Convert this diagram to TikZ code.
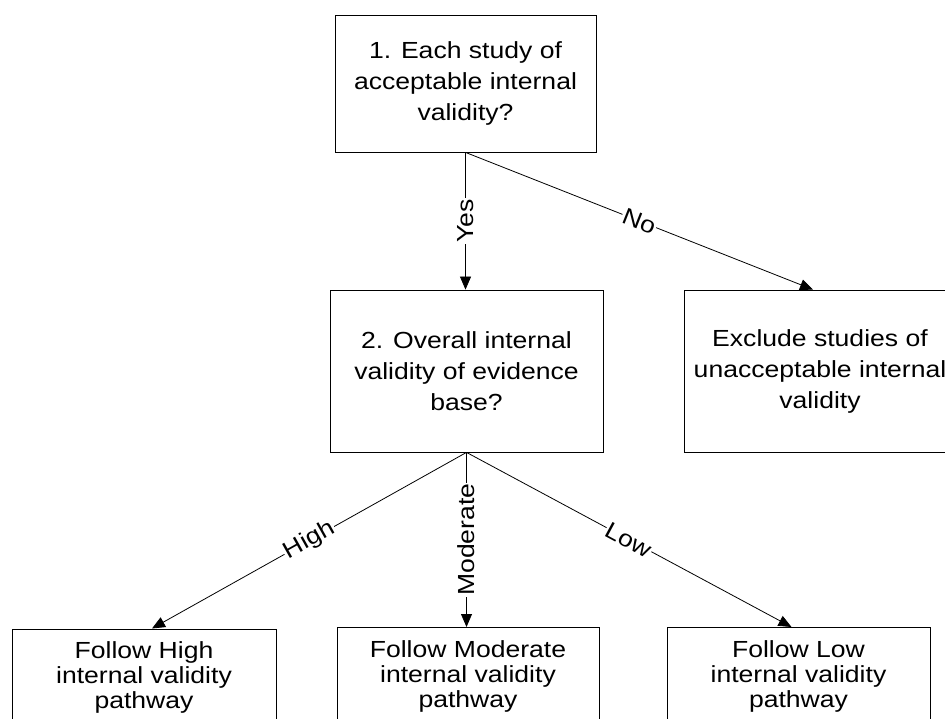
\documentclass[tikz,border=0pt]{standalone}
\usepackage{fontspec}
\setmainfont[FakeStretch=1.14]{Liberation Sans}
\usetikzlibrary{arrows.meta,calc}
\tikzset{
  box/.style={draw=black, line width=0.8pt, inner sep=0pt, align=center,
    font=\fontsize{23.3}{31}\selectfont},
  lowbox/.style={box, font=\fontsize{23.3}{25}\selectfont},
  lab/.style={fill=white, inner sep=1pt, font=\fontsize{23.3}{28}\selectfont},
  conn/.style={draw=black, line width=0.8pt, -{Triangle[length=13pt,width=11pt]}}
}
\begin{document}
\begin{tikzpicture}[x=1pt,y=-1pt]
\useasboundingbox (0,0) rectangle (945,719);
\clip (0,0) rectangle (945,719);
\fill[white] (0,0) rectangle (945,719);

\node[box, minimum width=261pt, minimum height=137pt] (q1) at (465.5,83.5)
  {1. Each study of\\acceptable internal\\validity?};
\node[box, minimum width=273pt, minimum height=162pt] (q2) at (466.5,371)
  {2. Overall internal\\validity of evidence\\base?};
\node[box, minimum width=272pt, minimum height=162pt] (ex) at (820,371)
  {Exclude studies of\\unacceptable internal\\validity};

\node[lowbox, minimum width=264pt, minimum height=98pt, anchor=north] (hi) at (144,628.5)
  {Follow High\\internal validity\\pathway};
\node[lowbox, minimum width=262pt, minimum height=98pt, anchor=north] (mo) at (468,627)
  {Follow Moderate\\internal validity\\pathway};
\node[lowbox, minimum width=263pt, minimum height=98pt, anchor=north] (lo) at (798.5,627)
  {Follow Low\\internal validity\\pathway};

\draw[conn] (q1.south) -- (q1.south |- q2.north)
  node[lab, midway, rotate=90] {Yes};
\draw[conn] (q1.south) -- ([xshift=-7pt]ex.north)
  node[lab, midway, sloped] {No};
\draw[conn] (q2.south) -- ([xshift=8pt]hi.north)
  node[lab, midway, sloped] {High};
\draw[conn] (q2.south) -- (q2.south |- mo.north)
  node[lab, midway, rotate=90] {Moderate};
\draw[conn] (q2.south) -- ([xshift=-7pt]lo.north)
  node[lab, midway, sloped] {Low};
\end{tikzpicture}
\end{document}
